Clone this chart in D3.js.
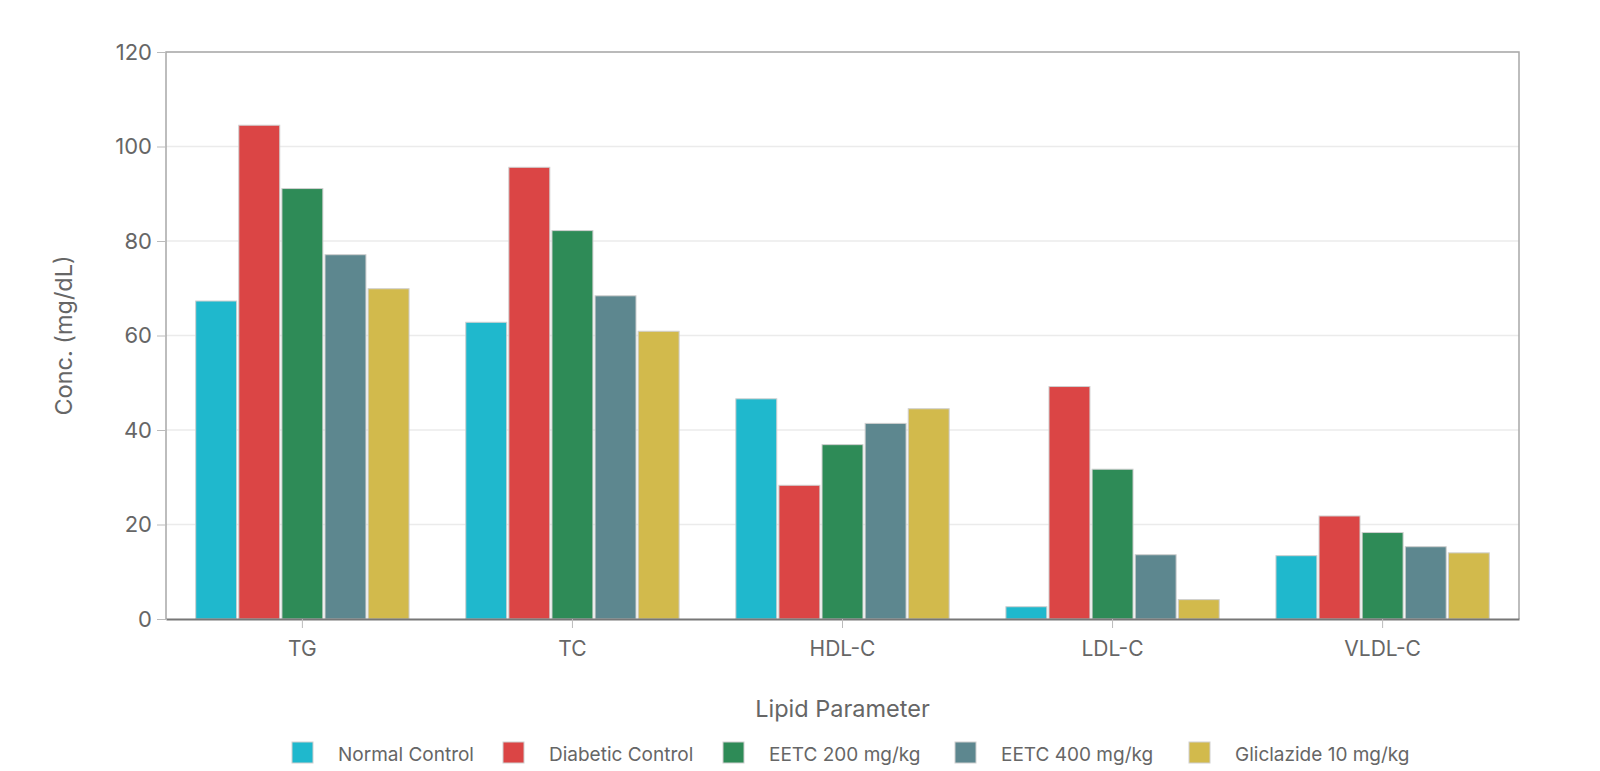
<!DOCTYPE html>
<html>
<head>
<meta charset="utf-8">
<script src="https://cdn.jsdelivr.net/npm/d3@7"></script>
<style>
  body { margin: 0; background: #fff; }
  text { font-family: Inter, "Liberation Sans", Arial, sans-serif; fill: #666; }
</style>
</head>
<body>
<div id="chart"></div>
<script>
// data
categories = ["TG", "TC", "HDL-C", "LDL-C", "VLDL-C"]
seriesNames = ["Normal Control", "Diabetic Control", "EETC 200 mg/kg", "EETC 400 mg/kg", "Gliclazide 10 mg/kg"]
normalControl = [67.3, 62.8, 46.6, 2.6, 13.4]
diabeticControl = [104.5, 95.6, 28.3, 49.2, 21.8]
eetc200 = [91.1, 82.2, 36.9, 31.7, 18.3]
eetc400 = [77.1, 68.4, 41.4, 13.6, 15.3]
gliclazide = [69.9, 60.9, 44.5, 4.1, 14.0]
yTicks = [0, 20, 40, 60, 80, 100, 120]
colors = ["#1fb8cd", "#db4545", "#2e8b57", "#5d878f", "#d2ba4c"]

const seriesValues = [normalControl, diabeticControl, eetc200, eetc400, gliclazide]

const width = 1600, height = 771
const margin = { top: 52, right: 81, bottom: 152, left: 166 }

const svg = d3.select("#chart").append("svg")
  .attr("width", width)
  .attr("height", height)

const x0 = d3.scaleBand()
  .domain(categories)
  .range([margin.left, width - margin.right])
  .paddingInner(0.21)
  .paddingOuter(0.11)

const x1 = d3.scaleBand()
  .domain(seriesNames)
  .range([0, x0.bandwidth()])
  .paddingInner(0.05)
  .paddingOuter(0)

const y = d3.scaleLinear()
  .domain([0, 120])
  .range([height - margin.bottom, margin.top])

// grid
svg.append("g")
  .selectAll("line")
  .data(yTicks.slice(1))
  .join("line")
  .attr("x1", margin.left).attr("x2", width - margin.right)
  .attr("y1", d => y(d)).attr("y2", d => y(d))
  .attr("stroke", "#ebebeb")
  .attr("stroke-width", 1.5)

// frame on top/right/left
svg.append("path")
  .attr("d", `M${margin.left},${height - margin.bottom}V${margin.top}H${width - margin.right}V${height - margin.bottom}`)
  .attr("fill", "none")
  .attr("stroke", "#a8a8a8")
  .attr("stroke-width", 1.5)

// bars
const rows = []
categories.forEach((c, i) => {
  seriesNames.forEach((s, j) => {
    rows.push({ cat: c, series: s, value: seriesValues[j][i], color: colors[j] })
  })
})

svg.append("g")
  .selectAll("rect")
  .data(rows)
  .join("rect")
  .attr("x", d => x0(d.cat) + x1(d.series))
  .attr("y", d => y(d.value))
  .attr("width", x1.bandwidth())
  .attr("height", d => y(0) - y(d.value))
  .attr("fill", d => d.color)
  .attr("stroke", "#cfcfcf")
  .attr("stroke-width", 1)

// y axis
const yAxis = svg.append("g")
  .attr("transform", `translate(${margin.left},0)`)
  .call(d3.axisLeft(y).tickValues(yTicks).tickSize(9).tickPadding(5))
yAxis.select(".domain").remove()
yAxis.selectAll("line").attr("stroke", "#bbb")
yAxis.selectAll("text").style("font-size", "22px").attr("fill", "#666")

// x axis
const xAxis = svg.append("g")
  .attr("transform", `translate(0,${y(0)})`)
  .call(d3.axisBottom(x0).tickSize(9).tickPadding(13).tickSizeOuter(0))
xAxis.select(".domain").attr("stroke", "#777").attr("stroke-width", 2)
xAxis.selectAll("line").attr("stroke", "#bbb")
xAxis.selectAll("text").style("font-size", "21px").attr("fill", "#666")

// titles
svg.append("text")
  .attr("x", (margin.left + width - margin.right) / 2)
  .attr("y", 717)
  .attr("text-anchor", "middle")
  .style("font-size", "23.5px")
  .text("Lipid Parameter")

svg.append("text")
  .attr("transform", `translate(72,${(margin.top + height - margin.bottom) / 2}) rotate(-90)`)
  .attr("text-anchor", "middle")
  .style("font-size", "23.5px")
  .text("Conc. (mg/dL)")

// legend
const legendX = [292, 503, 723, 955, 1189]
const legend = svg.append("g")
  .selectAll("g")
  .data(seriesNames)
  .join("g")
  .attr("transform", (d, i) => `translate(${legendX[i]},742)`)
legend.append("rect")
  .attr("width", 21).attr("height", 21)
  .attr("fill", (d, i) => colors[i])
  .attr("stroke", "#cfcfcf")
legend.append("text")
  .attr("x", 46)
  .attr("y", 19)
  .style("font-size", "19px")
  .text(d => d)
</script>
</body>
</html>
